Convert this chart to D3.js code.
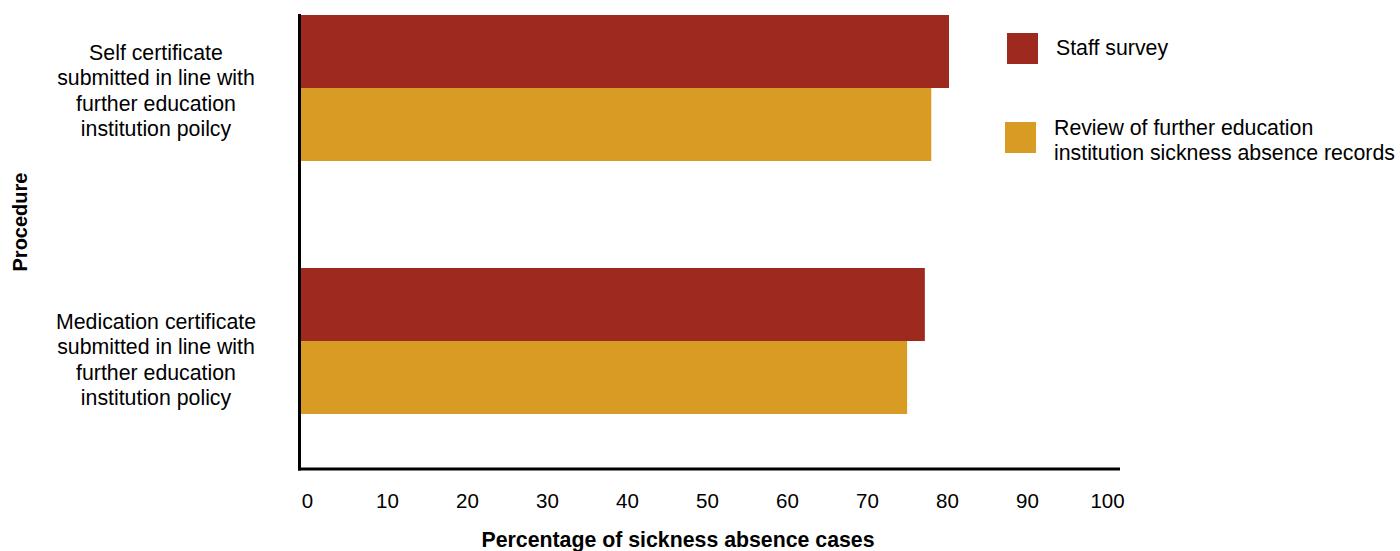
<!DOCTYPE html>
<html>
<head>
<meta charset="utf-8">
<script src="https://cdn.jsdelivr.net/npm/d3@7"></script>
<style>
  html, body { margin: 0; padding: 0; background: #ffffff; }
  svg { display: block; font-family: "Liberation Sans", Arial, sans-serif; }
</style>
</head>
<body>
<svg id="chart" width="1400" height="551"></svg>
<script>
// Procedures (y categories), each label split into lines
const procedures = ["Self certificate", "Medication certificate"];
const procedureLines = [
  ["Self certificate", "submitted in line with", "further education", "institution poilcy"],
  ["Medication certificate", "submitted in line with", "further education", "institution policy"]
];
// Series
const seriesNames = ["Staff survey", "Review of further education institution sickness absence records"];
const legendLines = [
  ["Staff survey"],
  ["Review of further education", "institution sickness absence records"]
];
const staffSurvey = [80.4, 77.4];
const recordsReview = [78.2, 75.2];
const xTicks = [0, 10, 20, 30, 40, 50, 60, 70, 80, 90, 100];
const colors = ["#9e2a1f", "#d89c25"];

const svg = d3.select("#chart");

const x = d3.scaleLinear().domain([0, 100]).range([301, 1107]);
const xLabels = d3.scaleLinear().domain([0, 100]).range([307, 1107]);

const y = d3.scaleBand().domain(procedures).range([15, 414]).paddingInner(0.423).paddingOuter(0);
const ySub = d3.scaleBand().domain(seriesNames).range([0, y.bandwidth()]).padding(0);

const rows = procedures.map((p, i) => ({
  procedure: p,
  values: [
    { series: seriesNames[0], value: staffSurvey[i] },
    { series: seriesNames[1], value: recordsReview[i] }
  ]
}));

// bars
const groups = svg.append("g").selectAll("g")
  .data(rows).join("g")
  .attr("transform", d => `translate(0,${y(d.procedure)})`);

groups.selectAll("rect")
  .data(d => d.values).join("rect")
  .attr("x", x(0))
  .attr("y", d => ySub(d.series))
  .attr("width", d => x(d.value) - x(0))
  .attr("height", ySub.bandwidth())
  .attr("fill", (d, i) => colors[i]);

// axis lines
svg.append("line")
  .attr("x1", 299.5).attr("x2", 299.5).attr("y1", 14).attr("y2", 470.5)
  .attr("stroke", "#000").attr("stroke-width", 3);
svg.append("line")
  .attr("x1", 298).attr("x2", 1120).attr("y1", 469).attr("y2", 469)
  .attr("stroke", "#000").attr("stroke-width", 3);

// x tick labels
const xAxis = svg.append("g")
  .attr("transform", "translate(0,488)")
  .call(d3.axisBottom(xLabels).tickValues(xTicks).tickSize(0).tickPadding(0).tickFormat(d3.format("d")));
xAxis.select(".domain").remove();
xAxis.selectAll("text")
  .attr("dy", "0")
  .attr("y", 20)
  .attr("fill", "#000")
  .style("font-size", "20.5px")
  .style("font-family", "'Liberation Sans', Arial, sans-serif");

// category labels
const labelShift = (i) => (i === 0 ? 3 : 19);
procedureLines.forEach((lines, i) => {
  const cy = y(procedures[i]) + y.bandwidth() / 2 + labelShift(i);
  const lh = 25.5;
  const t = svg.append("text")
    .attr("text-anchor", "middle")
    .attr("font-size", 21.3)
    .attr("fill", "#000");
  lines.forEach((ln, j) => {
    t.append("tspan")
      .attr("x", 156)
      .attr("y", cy + (j - (lines.length - 1) / 2) * lh + 7)
      .text(ln);
  });
});

// axis titles
svg.append("text")
  .attr("x", 678).attr("y", 547)
  .attr("text-anchor", "middle")
  .attr("font-size", 21.3)
  .attr("font-weight", "bold")
  .attr("fill", "#000")
  .text("Percentage of sickness absence cases");

svg.append("text")
  .attr("transform", "translate(27,222) rotate(-90)")
  .attr("text-anchor", "middle")
  .attr("font-size", 20)
  .attr("font-weight", "bold")
  .attr("fill", "#000")
  .text("Procedure");

// legend
const legendPos = [
  { sx: 1007, sy: 33, tx: 1056, ty: 55 },
  { sx: 1005, sy: 122, tx: 1054, ty: 135 }
];
legendLines.forEach((lines, i) => {
  const p = legendPos[i];
  svg.append("rect")
    .attr("x", p.sx).attr("y", p.sy)
    .attr("width", 31).attr("height", 31)
    .attr("fill", colors[i]);
  const t = svg.append("text")
    .attr("font-size", 21.3)
    .attr("fill", "#000");
  lines.forEach((ln, j) => {
    t.append("tspan").attr("x", p.tx).attr("y", p.ty + j * 24.5).text(ln);
  });
});
</script>
</body>
</html>
